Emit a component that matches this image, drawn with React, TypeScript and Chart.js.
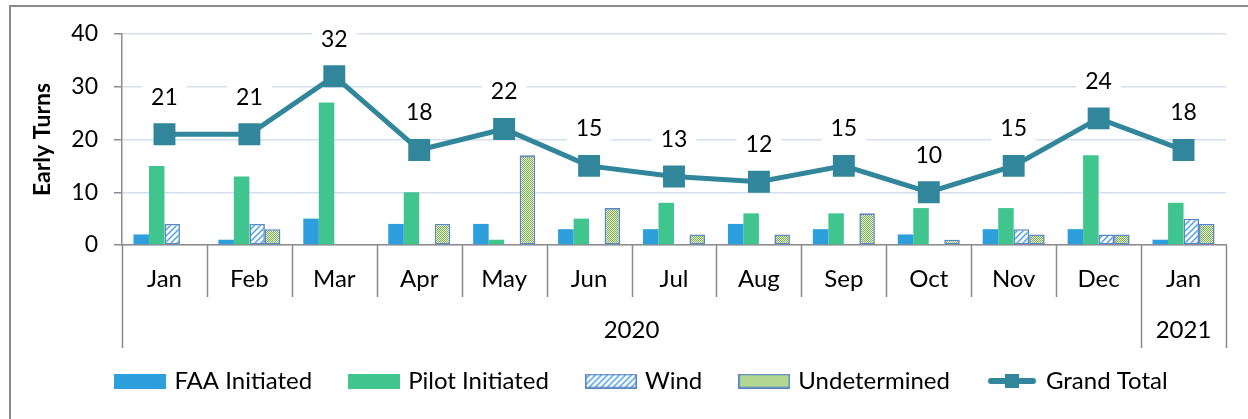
import React, { useEffect, useRef } from 'react';
import { Chart, registerables } from 'chart.js';

Chart.register(...registerables);

const months = ['Jan', 'Feb', 'Mar', 'Apr', 'May', 'Jun', 'Jul', 'Aug', 'Sep', 'Oct', 'Nov', 'Dec', 'Jan'];
const years = ['2020', '2021'];
const yearSpans = [12, 1];
const faaInitiated = [2, 1, 5, 4, 4, 3, 3, 4, 3, 2, 3, 3, 1];
const pilotInitiated = [15, 13, 27, 10, 1, 5, 8, 6, 6, 7, 7, 17, 8];
const wind = [4, 4, 0, 0, 0, 0, 0, 0, 0, 0, 3, 2, 5];
const undetermined = [0, 3, 0, 4, 17, 7, 2, 2, 6, 1, 2, 2, 4];
const grandTotal = [21, 21, 32, 18, 22, 15, 13, 12, 15, 10, 15, 24, 18];
const yMin = 0;
const yMax = 40;
const yStep = 10;

const FONT = 'Lato';
const FAA_COLOR = '#2C9FDC';
const PILOT_COLOR = '#40C58F';
const PATTERN_BORDER = '#5A86C5';
const LINE_COLOR = '#31869B';
const AXIS_COLOR = '#8C8C8C';
const GRID_COLOR = '#D3DEEF';

function windTile(): HTMLCanvasElement {
  const c = document.createElement('canvas');
  c.width = 6;
  c.height = 6;
  const g = c.getContext('2d')!;
  g.fillStyle = '#ffffff';
  g.fillRect(0, 0, 6, 6);
  g.strokeStyle = '#4DA2E2';
  g.lineWidth = 1.5;
  g.beginPath();
  g.moveTo(-1, 7);
  g.lineTo(7, -1);
  g.moveTo(-1, 1);
  g.lineTo(1, -1);
  g.moveTo(5, 7);
  g.lineTo(7, 5);
  g.stroke();
  return c;
}

function checkTile(): HTMLCanvasElement {
  const c = document.createElement('canvas');
  c.width = 2;
  c.height = 2;
  const g = c.getContext('2d')!;
  g.fillStyle = '#ffffff';
  g.fillRect(0, 0, 2, 2);
  g.fillStyle = '#66B22A';
  g.fillRect(0, 0, 1, 1);
  g.fillRect(1, 1, 1, 1);
  return c;
}

function legendBox(fill: string | HTMLCanvasElement, border?: string): HTMLCanvasElement {
  const c = document.createElement('canvas');
  c.width = 52;
  c.height = 15;
  const g = c.getContext('2d')!;
  if (typeof fill === 'string') {
    g.fillStyle = fill;
  } else {
    g.fillStyle = g.createPattern(fill, 'repeat')!;
  }
  g.fillRect(0, 0, 52, 15);
  if (border) {
    g.strokeStyle = border;
    g.lineWidth = 1.6;
    g.strokeRect(0.8, 0.8, 50.4, 13.4);
  }
  return c;
}

function legendLine(): HTMLCanvasElement {
  const c = document.createElement('canvas');
  c.width = 52;
  c.height = 22;
  const g = c.getContext('2d')!;
  g.strokeStyle = LINE_COLOR;
  g.lineWidth = 6;
  g.lineCap = 'round';
  g.beginPath();
  g.moveTo(5, 11);
  g.lineTo(47, 11);
  g.stroke();
  g.fillStyle = LINE_COLOR;
  g.fillRect(19, 4, 14, 14);
  return c;
}

const legendShiftPlugin = {
  id: 'legendShift',
  afterLayout(chart: any) {
    const lg = chart.legend;
    if (lg) {
      lg.left += 17;
      lg.right += 17;
    }
  },
};

const frameAndAxisPlugin = {
  id: 'frameAndAxis',
  afterDraw(chart: any) {
    const ctx = chart.ctx;
    const xs = chart.scales.x;
    const area = chart.chartArea;
    ctx.save();
    // outer frame (top and left edges visible)
    ctx.strokeStyle = '#8A8A8A';
    ctx.lineWidth = 2;
    ctx.beginPath();
    ctx.moveTo(10, 420);
    ctx.lineTo(10, 6);
    ctx.lineTo(1250, 6);
    ctx.stroke();

    // category separators
    const n = months.length;
    const bounds: number[] = [];
    for (let i = 0; i <= n; i++) {
      if (i === 0) bounds.push(area.left);
      else if (i === n) bounds.push(area.right);
      else bounds.push((xs.getPixelForValue(i - 1) + xs.getPixelForValue(i)) / 2);
    }
    const monthBottom = area.bottom + 52;
    const yearBottom = area.bottom + 103;
    const yearEdges = new Set<number>();
    let acc = 0;
    yearEdges.add(0);
    yearSpans.forEach((s) => {
      acc += s;
      yearEdges.add(acc);
    });
    ctx.strokeStyle = AXIS_COLOR;
    ctx.lineWidth = 1.5;
    ctx.beginPath();
    bounds.forEach((bx, i) => {
      const x = Math.round(bx) + 0.5;
      ctx.moveTo(x, area.bottom);
      ctx.lineTo(x, yearEdges.has(i) ? yearBottom : monthBottom);
    });
    ctx.stroke();

    // year labels
    ctx.fillStyle = '#000';
    ctx.font = `24px ${FONT}`;
    ctx.textAlign = 'center';
    ctx.textBaseline = 'middle';
    let start = 0;
    years.forEach((yr, k) => {
      const end = start + yearSpans[k];
      const cx = (bounds[start] + bounds[end]) / 2;
      ctx.fillText(yr, cx, area.bottom + 85);
      start = end;
    });
    ctx.restore();
  },
};

const totalLabelPlugin = {
  id: 'totalLabels',
  afterDatasetsDraw(chart: any) {
    const ctx = chart.ctx;
    const idx = chart.data.datasets.findIndex((d: any) => d.type === 'line');
    if (idx < 0) return;
    const meta = chart.getDatasetMeta(idx);
    ctx.save();
    ctx.font = `23px ${FONT}`;
    ctx.textAlign = 'center';
    ctx.textBaseline = 'middle';
    meta.data.forEach((pt: any, i: number) => {
      const txt = String(chart.data.datasets[idx].data[i]);
      const w = ctx.measureText(txt).width + 18;
      const y = pt.y - 38;
      ctx.fillStyle = '#ffffff';
      ctx.fillRect(pt.x - w / 2, y - 13, w, 26);
      ctx.fillStyle = '#000';
      ctx.fillText(txt, pt.x, y + 1);
    });
    ctx.restore();
  },
};

export default function App() {
  const ref = useRef<HTMLCanvasElement | null>(null);

  useEffect(() => {
    const canvas = ref.current;
    if (!canvas) return;
    const ctx = canvas.getContext('2d')!;
    Chart.defaults.font.family = FONT;
    Chart.defaults.color = '#000';

    const windPattern = ctx.createPattern(windTile(), 'repeat');
    const checkPattern = ctx.createPattern(checkTile(), 'repeat');
    const legendImages = [
      legendBox(FAA_COLOR),
      legendBox(PILOT_COLOR),
      legendBox(windTile(), PATTERN_BORDER),
      legendBox(checkTile(), PATTERN_BORDER),
      legendLine(),
    ];

    const chart = new Chart(canvas, {
      type: 'bar',
      data: {
        labels: months,
        datasets: [
          {
            label: 'FAA Initiated',
            data: faaInitiated,
            backgroundColor: FAA_COLOR,
            borderWidth: 0,
          },
          {
            label: 'Pilot Initiated',
            data: pilotInitiated,
            backgroundColor: PILOT_COLOR,
            borderWidth: 0,
          },
          {
            label: 'Wind',
            data: wind,
            backgroundColor: windPattern as any,
            borderColor: PATTERN_BORDER,
            borderWidth: 1.6,
            borderSkipped: false,
          },
          {
            label: 'Undetermined',
            data: undetermined,
            backgroundColor: checkPattern as any,
            borderColor: PATTERN_BORDER,
            borderWidth: 1.6,
            borderSkipped: false,
          },
          {
            type: 'line',
            label: 'Grand Total',
            data: grandTotal,
            borderColor: LINE_COLOR,
            backgroundColor: LINE_COLOR,
            borderWidth: 5,
            pointStyle: 'rect',
            pointRadius: 15.5,
            pointBorderWidth: 0,
            pointBackgroundColor: LINE_COLOR,
            tension: 0,
            order: -1,
          } as any,
        ],
      },
      options: {
        animation: false,
        responsive: true,
        maintainAspectRatio: false,
        layout: { padding: { left: 26, right: 22, top: 34, bottom: 16 } },
        datasets: {
          bar: { categoryPercentage: 0.73, barPercentage: 1.0 },
        },
        plugins: {
          tooltip: { enabled: false },
          legend: {
            position: 'bottom',
            labels: {
              font: { size: 24, family: FONT },
              color: '#000',
              usePointStyle: true,
              pointStyleWidth: 44,
              boxHeight: 14,
              padding: 40,
              generateLabels: (ch: any) =>
                ch.data.datasets.map((d: any, i: number) => ({
                  text: d.label,
                  datasetIndex: i,
                  pointStyle: legendImages[i],
                  fillStyle: 'transparent',
                  strokeStyle: 'transparent',
                  lineWidth: 0,
                  hidden: false,
                  fontColor: '#000',
                })),
            },
          },
        },
        scales: {
          x: {
            offset: true,
            grid: { display: false, drawTicks: false },
            border: { display: true, color: AXIS_COLOR, width: 1.5 },
            ticks: {
              font: { size: 24, family: FONT },
              color: '#000',
              padding: 20,
              autoSkip: false,
              maxRotation: 0,
            },
            afterFit: (scale: any) => {
              scale.height = 84;
            },
          },
          y: {
            min: yMin,
            max: yMax,
            ticks: {
              stepSize: yStep,
              font: { size: 23, family: FONT },
              color: '#000',
              padding: 16,
            },
            grid: {
              color: GRID_COLOR,
              lineWidth: 1.5,
              tickLength: 8,
              tickColor: AXIS_COLOR,
              drawTicks: true,
            },
            border: { display: true, color: AXIS_COLOR, width: 1.5 },
            title: {
              display: true,
              text: 'Early Turns',
              font: { size: 23, weight: 'bold', family: FONT },
              color: '#000',
              padding: { top: 3, bottom: 4 },
            },
            afterFit: (scale: any) => {
              scale.width = 96;
            },
          },
        },
      },
      plugins: [legendShiftPlugin, frameAndAxisPlugin, totalLabelPlugin],
    } as any);

    return () => chart.destroy();
  }, []);

  return (
    <div style={{ position: 'fixed', left: 0, top: 0, width: 1248, height: 419, background: '#fff' }}>
      <canvas ref={ref} />
    </div>
  );
}
